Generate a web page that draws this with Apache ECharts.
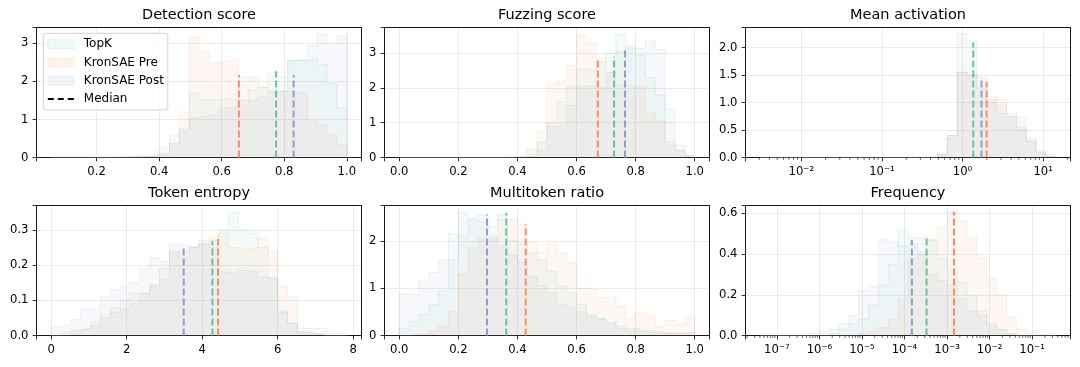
<!DOCTYPE html>
<html>
<head>
<meta charset="utf-8">
<script src="https://cdn.jsdelivr.net/npm/echarts@6/dist/echarts.min.js"></script>
<style>
  html, body { margin: 0; background: #fff; }
  #chart { width: 1080px; height: 367px; }
</style>
</head>
<body>
<div id="chart"></div>
<script>
const LABELS = ['TopK', 'KronSAE Pre', 'KronSAE Post']
const COLORS = ['#66c2a5', '#fc8d62', '#8da0cb']
const TITLES = ['Detection score', 'Fuzzing score', 'Mean activation', 'Token entropy', 'Multitoken ratio', 'Frequency']

// histogram ranges (log10 of the value for the log panels), 30 bins each
const DET_BINS = [0.055, 1.0]
const DET_TOPK = [0, 0, 0, 0, 0, 0, 0, 0.01, 0.02, 0.03, 0.05, 0.12, 0.38, 0.75, 1.7, 1.52, 1.52, 1.55, 1.52, 1.5, 1.78, 1.85, 2.25, 2.12, 2.55, 2.55, 2.6, 2.45, 1.95, 1.3]
const DET_PRE = [0.02, 0.02, 0.02, 0.01, 0.01, 0.01, 0.02, 0.03, 0.06, 0.07, 0.1, 0.25, 0.6, 1.2, 3.17, 2.8, 2.5, 2.55, 2.58, 2.12, 2.1, 1.85, 1.75, 1.75, 1.72, 1.7, 0.95, 0.85, 0.6, 0.35]
const DET_POST = [0, 0, 0, 0, 0, 0, 0, 0, 0.01, 0.02, 0.05, 0.1, 0.35, 0.7, 1.05, 1.1, 1.15, 1.3, 1.35, 1.4, 1.5, 1.6, 1.72, 1.75, 2.55, 2.6, 2.95, 3.25, 3.0, 3.2]
const DET_MEDIANS = [0.774, 0.655, 0.83]
const DET_MEDIAN_TOPS = [2.27, 2.17, 2.17]

const FUZZ_BINS = [0, 1.0]
const FUZZ_TOPK = [0, 0, 0, 0, 0, 0, 0, 0, 0, 0, 0, 0.01, 0.03, 0.1, 0.45, 1.0, 1.6, 2.05, 2.55, 2.5, 2.75, 3.0, 3.55, 3.2, 2.95, 2.3, 1.8, 0.45, 0.2, 0.05]
const FUZZ_PRE = [0, 0, 0, 0, 0, 0, 0, 0, 0, 0, 0, 0.03, 0.08, 0.25, 0.75, 2.1, 2.2, 2.65, 3.52, 3.3, 2.85, 2.45, 2.1, 2.05, 2.05, 1.3, 1.05, 0.35, 0.2, 0.05]
const FUZZ_POST = [0, 0, 0, 0, 0, 0, 0, 0, 0, 0, 0, 0, 0.01, 0.05, 0.2, 0.9, 0.95, 1.5, 2.05, 2.05, 2.0, 2.45, 3.05, 3.15, 3.15, 3.35, 3.1, 1.4, 0.35, 0.05]
const FUZZ_MEDIANS = [0.727, 0.672, 0.764]
const FUZZ_MEDIAN_TOPS = [2.9, 2.86, 3.16]

const MEAN_BINS = [-2.51, 1.157]
const MEAN_TOPK = [0, 0, 0, 0, 0, 0, 0, 0, 0, 0, 0, 0, 0, 0, 0, 0, 0, 0, 0.05, 0.4, 2.25, 2.12, 1.25, 1.0, 0.8, 0.8, 0.55, 0.3, 0.1, 0.02]
const MEAN_PRE = [0, 0, 0, 0, 0, 0, 0, 0, 0, 0, 0, 0, 0, 0, 0, 0, 0, 0.03, 0.08, 0.35, 1.55, 1.5, 1.3, 1.12, 1.05, 0.74, 0.71, 0.35, 0.12, 0.06]
const MEAN_POST = [0, 0, 0, 0, 0, 0, 0, 0, 0, 0, 0, 0, 0, 0, 0, 0, 0, 0, 0.05, 0.4, 1.55, 1.5, 1.45, 1.05, 0.95, 0.75, 0.5, 0.3, 0.08, 0.02]
const MEAN_MEDIANS = [1.36, 1.99, 1.72]
const MEAN_MEDIAN_TOPS = [2.09, 1.38, 1.46]

const ENT_BINS = [0, 7.83]
const ENT_TOPK = [0, 0.01, 0.015, 0.02, 0.03, 0.05, 0.065, 0.075, 0.09, 0.12, 0.14, 0.19, 0.24, 0.22, 0.25, 0.26, 0.27, 0.3, 0.35, 0.3, 0.29, 0.25, 0.16, 0.065, 0.035, 0.01, 0.005, 0, 0, 0]
const ENT_PRE = [0, 0, 0.015, 0.02, 0.04, 0.06, 0.08, 0.1, 0.12, 0.12, 0.145, 0.16, 0.235, 0.24, 0.25, 0.27, 0.28, 0.29, 0.25, 0.245, 0.25, 0.275, 0.24, 0.14, 0.11, 0.02, 0.02, 0.02, 0.01, 0.005]
const ENT_POST = [0.025, 0.03, 0.045, 0.075, 0.08, 0.11, 0.13, 0.14, 0.15, 0.19, 0.22, 0.21, 0.26, 0.255, 0.25, 0.26, 0.25, 0.18, 0.175, 0.185, 0.18, 0.165, 0.165, 0.07, 0.035, 0.01, 0.005, 0, 0, 0]
const ENT_MEDIANS = [4.27, 4.42, 3.51]
const ENT_MEDIAN_TOPS = [0.268, 0.274, 0.249]

const MULTI_BINS = [0, 1.0]
const MULTI_TOPK = [0.15, 0.3, 0.45, 0.65, 0.95, 1.6, 2.1, 2.45, 2.4, 2.3, 2.55, 2.0, 1.95, 1.75, 1.6, 1.35, 1.05, 0.9, 0.65, 0.45, 0.35, 0.25, 0.15, 0.1, 0.08, 0.06, 0.05, 0.05, 0.05, 0.07]
const MULTI_PRE = [0, 0.02, 0.05, 0.1, 0.2, 0.5, 1.3, 1.85, 2.05, 2.05, 2.45, 2.45, 2.35, 1.95, 1.75, 1.95, 1.75, 1.55, 1.0, 0.97, 0.8, 0.83, 0.62, 0.35, 0.48, 0.41, 0.2, 0.32, 0.23, 0.37]
const MULTI_POST = [0.88, 0.85, 1.17, 1.33, 1.6, 2.15, 2.6, 2.5, 2.55, 2.1, 1.9, 1.7, 1.55, 1.25, 1.05, 0.9, 0.65, 0.6, 0.5, 0.4, 0.35, 0.28, 0.2, 0.15, 0.12, 0.1, 0.06, 0.05, 0.05, 0.06]
const MULTI_MEDIANS = [0.362, 0.428, 0.297]
const MULTI_MEDIAN_TOPS = [2.59, 2.345, 2.556]

const FREQ_BINS = [-7.39, -0.445]
const FREQ_TOPK = [0, 0, 0, 0, 0, 0, 0, 0.01, 0.03, 0.06, 0.08, 0.15, 0.25, 0.35, 0.52, 0.48, 0.48, 0.47, 0.38, 0.33, 0.26, 0.2, 0.12, 0.06, 0.03, 0.01, 0, 0, 0, 0]
const FREQ_PRE = [0, 0, 0, 0, 0, 0, 0, 0, 0, 0, 0.01, 0.02, 0.04, 0.08, 0.18, 0.38, 0.41, 0.47, 0.53, 0.61, 0.56, 0.48, 0.38, 0.28, 0.2, 0.09, 0.03, 0.015, 0.005, 0.01]
const FREQ_POST = [0, 0, 0, 0, 0, 0.01, 0.02, 0.03, 0.06, 0.1, 0.22, 0.24, 0.47, 0.46, 0.44, 0.45, 0.4, 0.3, 0.27, 0.25, 0.18, 0.12, 0.1, 0.05, 0.03, 0.01, 0, 0, 0, 0]
const FREQ_MEDIANS = [3.3e-4, 1.46e-3, 1.49e-4]
const FREQ_MEDIAN_TOPS = [0.48, 0.607, 0.469]

const LOG_MINOR_MULTS = [2, 3, 4, 5, 6, 7, 8, 9]

const PANELS = [
	{ bins: DET_BINS, hists: [DET_TOPK, DET_PRE, DET_POST], med: DET_MEDIANS, medTop: DET_MEDIAN_TOPS,
		x: { min: 0.008, max: 1.047, step: 0.2, digits: 1 }, y: { max: 3.42, step: 1, digits: 0 } },
	{ bins: FUZZ_BINS, hists: [FUZZ_TOPK, FUZZ_PRE, FUZZ_POST], med: FUZZ_MEDIANS, medTop: FUZZ_MEDIAN_TOPS,
		x: { min: -0.05, max: 1.05, step: 0.2, digits: 1 }, y: { max: 3.74, step: 1, digits: 0 } },
	{ bins: MEAN_BINS, hists: [MEAN_TOPK, MEAN_PRE, MEAN_POST], med: MEAN_MEDIANS, medTop: MEAN_MEDIAN_TOPS, log: true,
		x: { min: Math.pow(10, -2.693), max: Math.pow(10, 1.34) }, y: { max: 2.365, step: 0.5, digits: 1 } },
	{ bins: ENT_BINS, hists: [ENT_TOPK, ENT_PRE, ENT_POST], med: ENT_MEDIANS, medTop: ENT_MEDIAN_TOPS,
		x: { min: -0.3915, max: 8.2215, step: 2, digits: 0 }, y: { max: 0.369, step: 0.1, digits: 1 } },
	{ bins: MULTI_BINS, hists: [MULTI_TOPK, MULTI_PRE, MULTI_POST], med: MULTI_MEDIANS, medTop: MULTI_MEDIAN_TOPS,
		x: { min: -0.05, max: 1.05, step: 0.2, digits: 1 }, y: { max: 2.746, step: 1, digits: 0 } },
	{ bins: FREQ_BINS, hists: [FREQ_TOPK, FREQ_PRE, FREQ_POST], med: FREQ_MEDIANS, medTop: FREQ_MEDIAN_TOPS, log: true,
		x: { min: Math.pow(10, -7.737), max: Math.pow(10, -0.098) }, y: { max: 0.639, step: 0.2, digits: 1 } },
]

const FONT = 'DejaVu Sans'
const INK = '#1a1a1a'
const COL_LEFT = [36.5, 384.5, 745.5]
const ROW_TOP = [27.5, 205.5]
const PANEL_W = 325
const PANEL_H = 130

function rgba(hex, a) {
	const n = parseInt(hex.slice(1), 16)
	return `rgba(${n >> 16},${(n >> 8) & 255},${n & 255},${a})`
}

const SUP = { '-': '\u207b', 0: '\u2070', 1: '\u00b9', 2: '\u00b2', 3: '\u00b3', 4: '\u2074', 5: '\u2075', 6: '\u2076', 7: '\u2077', 8: '\u2078', 9: '\u2079' }
function logLabel(v) {
	const e = Math.log10(v)
	const r = Math.round(e)
	if (Math.abs(e - r) > 1e-6) return ''
	return '10' + String(r).split('').map((c) => SUP[c]).join('')
}
function stepLabel(step, digits) {
	return (v) => {
		const r = Math.round(v / step) * step
		if (Math.abs(v - r) > 1e-6) return ''
		return r.toFixed(digits)
	}
}

// step outline of a histogram: [e0,0], [e_k,h_k]..., [e_n,h_last], [e_n,0]
function histPoints(bins, heights, log) {
	const n = heights.length
	const edge = (k) => {
		const e = bins[0] + ((bins[1] - bins[0]) * k) / n
		return log ? Math.pow(10, e) : e
	}
	const pts = [[edge(0), 0]]
	heights.forEach((h, k) => pts.push([edge(k), h]))
	pts.push([edge(n), heights[n - 1]], [edge(n), 0])
	return pts
}

function minorTicks(min, max) {
	const out = []
	for (let d = Math.floor(Math.log10(min)); d <= Math.ceil(Math.log10(max)); d++) {
		for (const m of LOG_MINOR_MULTS) {
			const v = m * Math.pow(10, d)
			if (v > min && v < max) out.push([v, 0])
		}
	}
	return out
}

const grid = [], xAxis = [], yAxis = [], series = [], title = []
const splitLine = { show: true, showMinLine: false, showMaxLine: false, lineStyle: { color: '#e6e6e6', width: 0.8 } }
const axisTick = { show: true, length: 3.85, lineStyle: { color: INK, width: 0.9 } }
const axisLine = { show: true, onZero: false, lineStyle: { color: INK, width: 1 } }
const labelStyle = { fontFamily: FONT, fontSize: 11.6, color: '#000' }
const spine = {
	show: true, silent: true, z: 6, axisLine: { show: true, onZero: false, lineStyle: { color: INK, width: 1 } },
	axisTick: { show: false }, axisLabel: { show: false }, splitLine: { show: false },
}
const spineX = [], spineY = []

PANELS.forEach((p, i) => {
	const left = COL_LEFT[i % 3]
	const top = ROW_TOP[Math.floor(i / 3)]
	grid.push({ left, top, width: PANEL_W, height: PANEL_H, show: true, borderColor: INK, borderWidth: 1, backgroundColor: 'transparent' })
	title.push({
		text: TITLES[i], left: left + PANEL_W / 2, top: top - 20.2, textAlign: 'center', padding: 0,
		textStyle: { fontFamily: FONT, fontSize: 14.5, fontWeight: 'normal', color: '#000', lineHeight: 16 },
	})
	xAxis.push({
		gridIndex: i,
		position: 'bottom',
		type: p.log ? 'log' : 'value',
		logBase: 10,
		min: p.x.min,
		max: p.x.max,
		splitNumber: 5,
		axisLine,
		axisTick,
		axisLabel: { ...labelStyle, margin: 8.5, formatter: p.log ? logLabel : stepLabel(p.x.step, p.x.digits) },
		splitLine,
	})
	yAxis.push({
		gridIndex: i,
		position: 'left',
		type: 'value',
		min: 0,
		max: p.y.max,
		interval: p.y.step,
		axisLine,
		axisTick,
		axisLabel: { ...labelStyle, margin: 8, formatter: stepLabel(p.y.step, p.y.digits) },
		splitLine,
	})
	// top and right frame lines
	spineX.push({ ...spine, gridIndex: i, position: 'top', type: 'value', min: 0, max: 1 })
	spineY.push({ ...spine, gridIndex: i, position: 'right', type: 'value', min: 0, max: 1 })

	p.hists.forEach((h, s) => {
		series.push({
			name: LABELS[s],
			type: 'line',
			xAxisIndex: i,
			yAxisIndex: i,
			step: 'end',
			symbol: 'none',
			silent: true,
			z: 2,
			color: COLORS[s],
			lineStyle: { color: rgba(COLORS[s], 0.14), width: 1 },
			areaStyle: { color: rgba(COLORS[s], 0.1), origin: 'start' },
			data: histPoints(p.bins, h, p.log),
		})
	})
	p.med.forEach((m, s) => {
		series.push({
			name: 'median-' + s,
			type: 'line',
			xAxisIndex: i,
			yAxisIndex: i,
			symbol: 'none',
			silent: true,
			z: 3,
			lineStyle: { color: COLORS[s], width: 2, type: [7, 3] },
			data: [[m, 0], [m, p.medTop[s]]],
		})
	})
	if (p.log) {
		series.push({
			type: 'custom',
			xAxisIndex: i,
			yAxisIndex: i,
			silent: true,
			clip: false,
			z: 4,
			data: minorTicks(p.x.min, p.x.max),
			renderItem: (params, api) => {
				const c = api.coord([api.value(0), api.value(1)])
				return { type: 'line', shape: { x1: c[0], y1: c[1], x2: c[0], y2: c[1] + 2.3 }, style: { stroke: INK, lineWidth: 0.7 } }
			},
		})
	}
})

// legend-only entry
series.push({
	name: 'Median', type: 'line', xAxisIndex: 0, yAxisIndex: 0, symbol: 'none', data: [],
	color: '#000', lineStyle: { color: '#000', width: 2, type: [6, 3.5] },
})

const chart = echarts.init(document.getElementById('chart'), null, { renderer: 'canvas' })
chart.setOption({
	animation: false,
	backgroundColor: '#fff',
	title,
	grid,
	xAxis: xAxis.concat(spineX),
	yAxis: yAxis.concat(spineY),
	series,
	legend: {
		left: 43.3,
		top: 33.3,
		orient: 'vertical',
		selectedMode: false,
		itemWidth: 26,
		itemHeight: 9,
		itemGap: 4.3,
		padding: [3.9, 4, 3.9, 4],
		backgroundColor: 'rgba(255,255,255,0.8)',
		borderColor: '#d4d4d4',
		borderWidth: 1,
		borderRadius: 3,
		z: 10,
		textStyle: { fontFamily: FONT, fontSize: 12, color: '#000', lineHeight: 14, padding: [0, 0, 0, 5] },
		data: [
			...LABELS.map((name, s) => ({
				name,
				icon: 'rect',
				itemStyle: { color: rgba(COLORS[s], 0.1), borderColor: rgba(COLORS[s], 0.14), borderWidth: 1 },
			})),
			{
				name: 'Median',
				icon: 'path://M0,0H6V2H0Z M10,0H16V2H10Z M20,0H26V2H20Z',
				itemStyle: { color: '#000', borderWidth: 0 },
			},
		],
	},
})
</script>
</body>
</html>
